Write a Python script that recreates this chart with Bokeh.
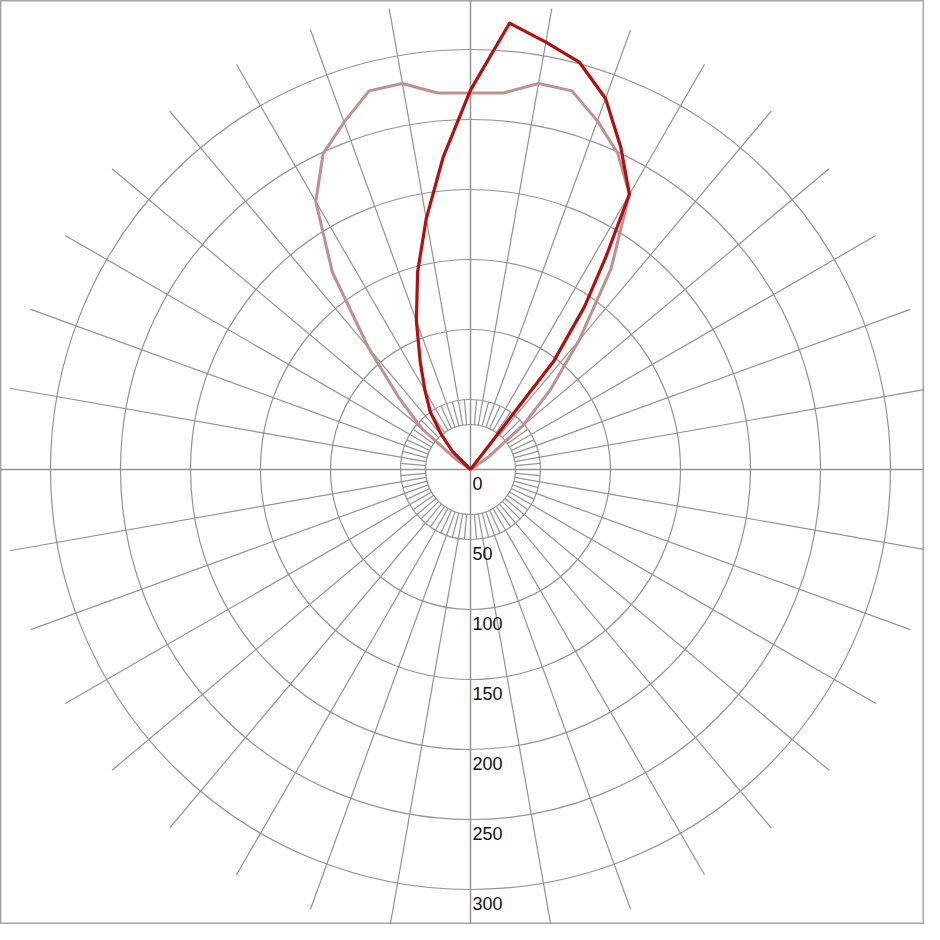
import numpy as np
from bokeh.plotting import figure
from bokeh.embed import file_html
from bokeh.resources import INLINE
from bokeh.core.properties import value

# ---- data (angle in degrees, clockwise from the upward vertical; value in radial units) ----
tick_values = [0, 50, 100, 150, 200, 250, 300]
tick_labels = ["0", "50", "100", "150", "200", "250", "300"]

dark_angles = [-50, -45, -40, -35, -30, -25, -20, -15, -10, -5, 0, 5, 10, 15, 20, 25, 30, 32.5, 35, 37.5, 40]
dark_values = [0, 18, 32, 50, 65, 85, 113, 146, 182, 224, 271, 320, 310, 301, 282, 254, 227, 180, 142, 98, 0]

light_angles = [-60, -55, -50, -45, -40, -35, -30, -25, -20, -15, -10, -5, 0, 5, 10, 15, 20, 25, 30, 35, 40, 45, 50, 55, 60]
light_values = [0, 12, 45, 72, 113, 172, 221, 249, 264, 280, 280, 270, 269, 270, 280, 280, 265, 249, 227, 175, 121, 81, 49, 16, 0]

# ---- layout / style ----
W = H = 924
PX = 1.4                 # pixels per radial unit
CX, CY = 470.0, 469.0    # centre in figure pixels
R_INNER = 45 / PX        # small inner circle
R_RAY = 468 / PX         # extent of radial grid lines
GRID = "#939393"

p = figure(width=W, height=H,
           x_range=(-CX / PX, (W - CX) / PX),
           y_range=(-(H - CY) / PX, CY / PX),
           output_backend="svg", toolbar_location=None,
           min_border=0, match_aspect=False)
p.axis.visible = False
p.grid.visible = False
p.outline_line_color = "#a6a6a6"
p.outline_line_width = 2
p.background_fill_color = "white"
p.border_fill_color = "white"

# rings
rings = [v for v in tick_values if v > 0]
p.circle(x=[0] * len(rings), y=[0] * len(rings), radius=rings,
         fill_color=None, line_color=GRID, line_width=1.2)
p.circle(x=[0], y=[0], radius=[R_INNER], fill_color=None, line_color=GRID, line_width=1.2)

# radial lines every 10 degrees (from the inner circle outwards)
main = np.deg2rad([a for a in range(0, 360, 10) if a % 90 != 0])
p.segment(x0=R_INNER * np.sin(main), y0=R_INNER * np.cos(main),
          x1=R_RAY * np.sin(main), y1=R_RAY * np.cos(main),
          line_color=GRID, line_width=1.2)
# short radial lines at the 5-degree offsets, between inner circle and first ring
short = np.deg2rad(np.arange(5, 360, 10))
p.segment(x0=R_INNER * np.sin(short), y0=R_INNER * np.cos(short),
          x1=rings[0] * np.sin(short), y1=rings[0] * np.cos(short),
          line_color=GRID, line_width=1.2)
# axes through the centre
big = 1000
p.segment(x0=[-big, 0], y0=[0, -big], x1=[big, 0], y1=[0, big],
          line_color=GRID, line_width=1.5)

# curves
la = np.deg2rad(light_angles)
lv = np.array(light_values, dtype=float)
p.line(lv * np.sin(la), lv * np.cos(la), line_color="#c28f8f", line_width=3,
       line_join="round")

da = np.deg2rad(dark_angles)
dv = np.array(dark_values, dtype=float)
p.line(dv * np.sin(da), dv * np.cos(da), line_color="#b30f0f", line_width=3.2,
       line_join="round")

# radial tick labels (below the centre, right of the vertical axis)
p.text(x=[1.4] * len(tick_values), y=[-v - 5 for v in tick_values], text=tick_labels,
       text_align="left", text_baseline="top",
       text_font=value("Liberation Sans"), text_font_size="18px", text_color="#111111")

open("out.html", "w").write(file_html(p, INLINE))
